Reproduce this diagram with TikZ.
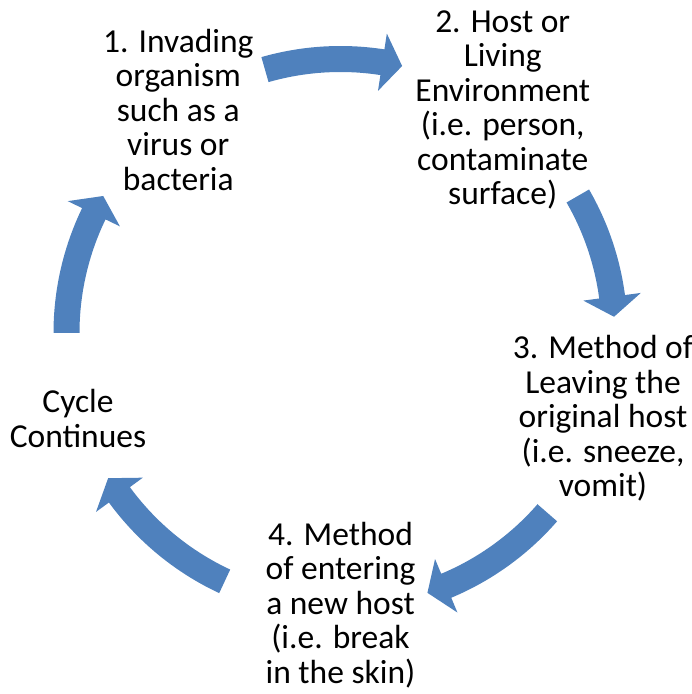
\documentclass[tikz,border=0pt]{standalone}
\usepackage{fontspec}
\setmainfont{Carlito}
\definecolor{accentblue}{RGB}{79,129,189}
\tikzset{
  arrowfill/.style={fill=accentblue, draw=none},
  steptext/.style={align=center, inner sep=0pt, font=\fontsize{33.5}{34.5}\selectfont, text=black}
}
\newcommand{\cycarrow}[2]{%
  \pgfmathsetmacro{\hb}{#2+4.2}%
  \fill[arrowfill] (#1:287pt) arc[start angle=#1, end angle=\hb, radius=287pt]
    -- (\hb:303pt) -- (#2:274pt) -- (\hb:245pt) -- (\hb:261pt)
    arc[start angle=\hb, end angle=#1, radius=261pt] -- cycle;}
\begin{document}
\begin{tikzpicture}[x=1pt,y=1pt]
\useasboundingbox (0,0) rectangle (692,694);
\begin{scope}[shift={(340.5pt,361pt)}]
  \cycarrow{106}{77}
  \cycarrow{30}{3.4}
  \cycarrow{-41}{-71.5}
  \cycarrow{245}{212}
  \cycarrow{180}{150}
  \node[steptext] (n1) at (126:276pt) {1. Invading\\organism\\such as a\\virus or\\bacteria};
  \node[steptext] (n2) at (54:276pt) {2. Host or\\Living\\Environment\\(i.e. person,\\contaminate\\surface)};
  \node[steptext] (n3) at (-18:276pt) {3. Method of\\Leaving the\\original host\\(i.e. sneeze,\\vomit)};
  \node[steptext] (n4) at (0pt,-272pt) {4. Method\\of entering\\a new host\\(i.e. break\\in the skin)};
  \node[steptext] (n5) at (198:276pt) {Cycle\\Continues};
\end{scope}
\end{tikzpicture}
\end{document}
